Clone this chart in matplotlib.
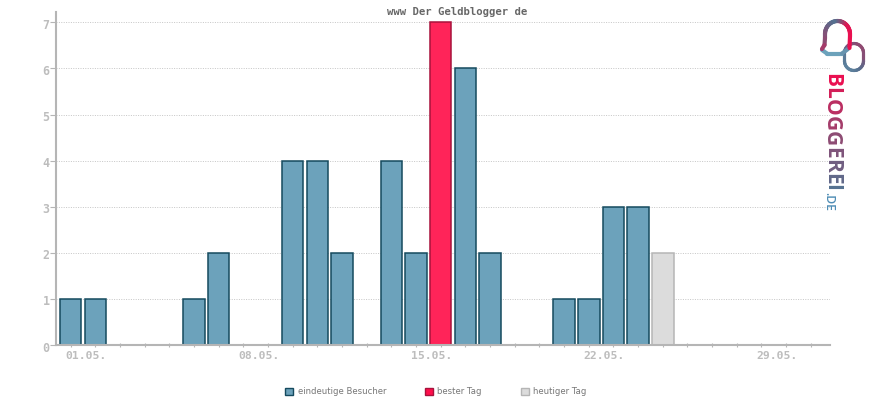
import numpy as np
import matplotlib
matplotlib.use("Agg")
import matplotlib.pyplot as plt
from matplotlib.patches import Patch
from matplotlib.collections import LineCollection
from matplotlib.colors import LinearSegmentedColormap

title = "www Der Geldblogger de"
days = [1, 2, 6, 7, 10, 11, 12, 14, 15, 16, 17, 18, 21, 22, 23, 24, 25]
visitors = [1, 1, 1, 2, 4, 4, 2, 4, 2, 7, 6, 2, 1, 1, 3, 3, 2]
best_day = 16
today = 25
label_days = [1, 8, 15, 22, 29]
label_text = ["01.05.", "08.05.", "15.05.", "22.05.", "29.05."]
all_days = list(range(1, 32))
y_values = list(range(8))
legend_labels = ["eindeutige Besucher", "bester Tag", "heutiger Tag"]

BLUE, BLUE_E = "#6ca2bb", "#154a5e"
RED, RED_E = "#ff2459", "#a8123c"
GREY, GREY_E = "#dcdcdc", "#b5b5b5"
AXIS = "#b5b5b5"
MONO = "DejaVu Sans Mono"

W, H = 870, 400
fig = plt.figure(figsize=(W / 100, H / 100), dpi=100)
L, R, T, B = 56, 830, 12, 345
ax = fig.add_axes([L / W, 1 - B / H, (R - L) / W, (B - T) / H])
step = 24.67
ax.set_xlim(1 + (L - 70.7) / step, 1 + (R - 70.7) / step)
ax.set_ylim(0, (B - T) / 46.1)

fills = [RED if d == best_day else GREY if d == today else BLUE for d in days]
edges = [RED_E if d == best_day else GREY_E if d == today else BLUE_E for d in days]
ax.bar(days, visitors, width=0.87, color=fills, edgecolor=edges, linewidth=1.1, zorder=2, clip_on=False)

ax.set_yticks(y_values)
ax.set_yticklabels([])
ax.yaxis.grid(True, linestyle=(0, (1, 1.4)), color="#c8c8c8", linewidth=0.72, zorder=1)
ax.set_axisbelow(True)
ax.set_xticks(all_days)
ax.set_xticklabels([])
ax.tick_params(axis="x", length=3, width=0.8, color=AXIS, direction="inout")
ax.tick_params(axis="y", length=4, width=0.8, color=AXIS)
for s in ["top", "right"]:
    ax.spines[s].set_visible(False)
for s in ["left", "bottom"]:
    ax.spines[s].set_color(AXIS)
    ax.spines[s].set_linewidth(1.5)
    ax.spines[s].set_zorder(3)

# overlay in pixel coordinates for the title, tick labels and logo
ov = fig.add_axes([0, 0, 1, 1], facecolor="none")
ov.set_xlim(0, W)
ov.set_ylim(H, 0)
ov.axis("off")
ov.text(457, 12, title, family=MONO, weight="bold", fontsize=7.7, color="#666666",
        ha="center", va="center")

to_px = ax.transData + ov.transData.inverted()
for d, t in zip(label_days, label_text):
    x = to_px.transform((d, 0))[0]
    ov.text(x - 5, 356, t, family=MONO, weight="bold", fontsize=8.2, color="#bdbdbd",
            ha="left", va="center")
for v in y_values:
    y = to_px.transform((1, v))[1]
    ov.text(49.5, y + 3, str(v), family=MONO, weight="bold", fontsize=8.4, color="#bdbdbd",
            ha="right", va="center")

handles = [Patch(facecolor=BLUE, edgecolor=BLUE_E, linewidth=1),
           Patch(facecolor="#ff0f4b", edgecolor="#a8123c", linewidth=1),
           Patch(facecolor=GREY, edgecolor=GREY_E, linewidth=1)]
ov.legend(handles, legend_labels, ncol=3, loc="center", bbox_to_anchor=(436 / W, 1 - 392 / H),
          frameon=False, handlelength=0.95, handleheight=1.0, handletextpad=0.5,
          columnspacing=4.6, labelcolor="#777777", prop={"family": "DejaVu Sans", "size": 6.1})

# logo
cm = LinearSegmentedColormap.from_list("logo", ["#ea0f50", "#8e4a72", "#55708f", "#6ca2bb"])

def rrect(x0, y0, x1, y1, r, n=14):
    a = np.linspace(0, np.pi / 2, n)
    px, py = [], []
    for cx, cy, off in [(x1 - r, y0 + r, -np.pi / 2), (x1 - r, y1 - r, 0),
                        (x0 + r, y1 - r, np.pi / 2), (x0 + r, y0 + r, np.pi)]:
        px += list(cx + r * np.cos(a + off))
        py += list(cy + r * np.sin(a + off))
    return np.array(px + px[:1]), np.array(py + py[:1])

def stroke(x, y, v, lw):
    x, y, v = (np.asarray(q, dtype=float) for q in (x, y, v))
    pts = np.column_stack([x, y])
    segs = np.stack([pts[:-1], pts[1:]], axis=1)
    ov.add_collection(LineCollection(segs, array=v[:-1], cmap=cm, norm=plt.Normalize(0, 1),
                                     linewidth=lw, capstyle="round"))

# small loop: blue upper left, mauve lower right
xs, ys = rrect(844.5, 43.5, 863.5, 70.5, 9.5)
stroke(xs, ys, np.interp(xs - ys, [775, 820], [0.85, 0.25]), 2.3)

# large loop: bottom stroke first, then the arch over it
stroke([822, 827, 842, 848], [50, 53.5, 53.5, 49], [1, 1, 0.9, 0.85], 3.0)
a = np.linspace(0, np.pi, 40)
xr = np.r_[849.5, 850, 837.5 + 12.5 * np.cos(a), 825, 824.5, 822]
yr = np.r_[48, 36, 34 - 13 * np.sin(a), 38, 45, 49]
vr = np.r_[0, 0, np.interp(a, [0, 0.9, 1.9, np.pi], [0, 0.05, 0.7, 0.4]), 0.35, 0.25, 0.05]
stroke(xr, yr, vr, 3.0)

letters = "BLOGGEREI"
ypos = 73.0
fig.canvas.draw()
r = fig.canvas.get_renderer()
for i, ch in enumerate(letters):
    t = ov.text(831.5, ypos, ch, family="Open Sans", weight="bold", fontsize=15.0, rotation=-90,
                ha="center", va="top", color=cm(i / 8 * 0.68))
    ypos += t.get_window_extent(r).height + 0.2
ov.text(829, 192, ".DE", family="Open Sans", weight="semibold", fontsize=8.8, rotation=-90,
        ha="center", va="top", color="#4f8db5")

fig.savefig("out.png", dpi=100)
